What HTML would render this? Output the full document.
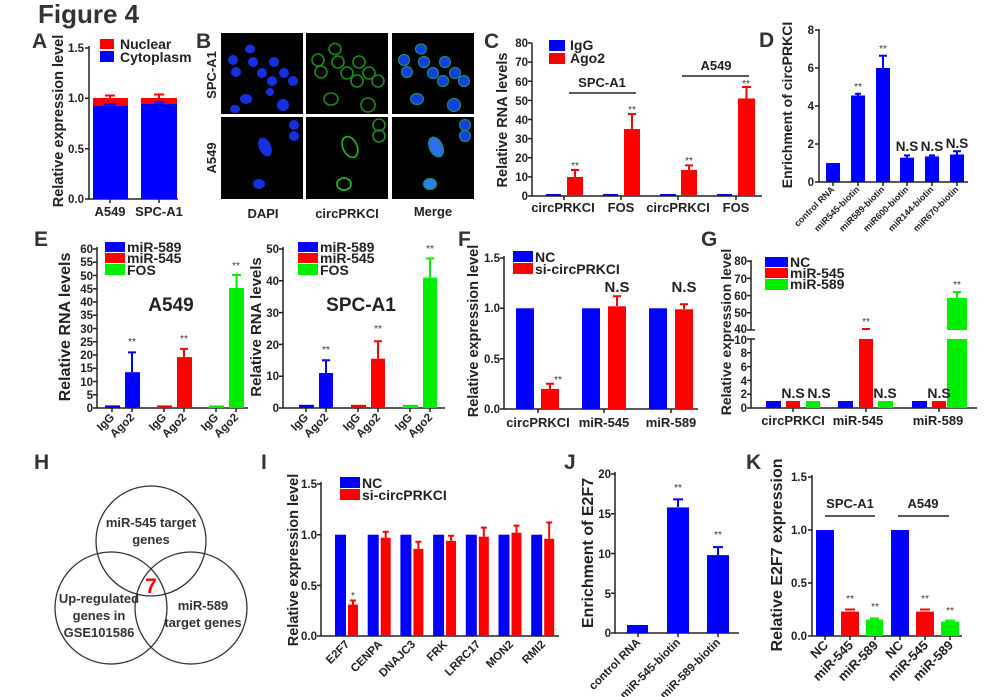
<!DOCTYPE html>
<html><head><meta charset="utf-8"><style>
html,body{margin:0;padding:0;background:#fff;}
svg{display:block;font-family:"Liberation Sans",Arial,sans-serif;font-weight:bold;}
.tk{font-size:11.5px;fill:#222;text-anchor:end;}
.xl{font-size:13px;fill:#222;text-anchor:middle;}
.yt{font-size:14.5px;fill:#222;text-anchor:middle;}
.lg{font-size:14px;fill:#222;}
.pl{font-size:21px;fill:#333;}
.st{font-size:10px;fill:#333;text-anchor:middle;font-weight:normal;}
.ns{font-size:15px;fill:#222;text-anchor:middle;}
.ax{stroke:#222;stroke-width:1.5;fill:none;}
.rl{font-size:11.5px;fill:#222;text-anchor:end;}
.b{fill:#0000ff}.r{fill:#ff0000}.g{fill:#00ee00}
.eb{stroke:#0000ff;stroke-width:2;fill:none}.er{stroke:#ff0000;stroke-width:2;fill:none}.eg{stroke:#00ee00;stroke-width:2;fill:none}
.vt{font-size:13px;fill:#333;text-anchor:middle;}
</style></head><body>
<svg width="998" height="697" viewBox="0 0 998 697" xmlns="http://www.w3.org/2000/svg">
<text x="38" y="23" style="font-size:26px;fill:#333">Figure 4</text>

<!-- A -->
<text class="pl" x="32" y="48">A</text>
<path class="ax" d="M89,46 V199 H178 M85,48 H89 M85,98.3 H89 M85,148.7 H89 M85,199 H89 M110,199 V203 M159,199 V203"/>
<text class="tk" x="84" y="52">1.5</text><text class="tk" x="84" y="102">1.0</text><text class="tk" x="84" y="153">0.5</text><text class="tk" x="84" y="203">0.0</text>
<rect class="r" x="93" y="98" width="35" height="9"/><rect class="b" x="93" y="106" width="35" height="93"/>
<rect class="r" x="141" y="98" width="36" height="7"/><rect class="b" x="141" y="104" width="36" height="95"/>
<path class="er" d="M110,98 V95.5 M105,95.5 H115 M159,98 V94.5 M154,94.5 H164"/>
<path class="eb" d="M104,104.5 H116 M154,102.5 H164"/>
<text class="xl" x="110" y="216">A549</text><text class="xl" x="159" y="216">SPC-A1</text>
<text class="yt" transform="translate(63,121) rotate(-90)">Relative expression level</text>
<rect class="r" x="100" y="39" width="14" height="10"/><text class="lg" x="120" y="49">Nuclear</text>
<rect class="b" x="100" y="51" width="14" height="11"/><text class="lg" x="120" y="62">Cytoplasm</text>

<!-- B -->
<text class="pl" x="196" y="48">B</text>
<g>
<rect x="221" y="33" width="82" height="81" fill="#000"/><rect x="306" y="33" width="82" height="81" fill="#000"/><rect x="392" y="33" width="82" height="81" fill="#000"/>
<rect x="221" y="117" width="82" height="82" fill="#000"/><rect x="306" y="117" width="82" height="82" fill="#000"/><rect x="392" y="117" width="82" height="82" fill="#000"/>
<g fill="#1530e0">
<ellipse cx="250" cy="49" rx="5" ry="4.5"/><ellipse cx="233" cy="60" rx="5" ry="5"/><ellipse cx="253" cy="62" rx="5" ry="5"/><ellipse cx="274" cy="62" rx="5" ry="5"/>
<ellipse cx="236" cy="72" rx="5" ry="5"/><ellipse cx="262" cy="73" rx="5" ry="5"/><ellipse cx="284" cy="73" rx="5" ry="5"/><ellipse cx="272" cy="81" rx="5" ry="5"/>
<ellipse cx="293" cy="81" rx="5" ry="5"/><ellipse cx="246" cy="99" rx="6" ry="5"/><ellipse cx="283" cy="105" rx="6" ry="6"/><ellipse cx="235" cy="109" rx="5" ry="4"/><ellipse cx="270" cy="92" rx="4" ry="4"/>
<ellipse cx="265" cy="147" rx="6" ry="10" transform="rotate(-25 265 147)"/><ellipse cx="259" cy="184" rx="6" ry="5"/><ellipse cx="294" cy="125" rx="5" ry="5"/><ellipse cx="294" cy="136" rx="5" ry="5"/>
</g>
<g fill="none" stroke="#1d8a1d" stroke-width="1.6">
<ellipse cx="335" cy="49" rx="6" ry="5.5"/><ellipse cx="318" cy="60" rx="6" ry="6"/><ellipse cx="338" cy="62" rx="6" ry="6"/><ellipse cx="359" cy="62" rx="6" ry="6"/>
<ellipse cx="321" cy="72" rx="6" ry="6"/><ellipse cx="347" cy="73" rx="6" ry="6"/><ellipse cx="369" cy="73" rx="6" ry="6"/><ellipse cx="357" cy="81" rx="6" ry="6"/>
<ellipse cx="378" cy="81" rx="6" ry="6"/><ellipse cx="331" cy="99" rx="7" ry="6"/><ellipse cx="368" cy="105" rx="7" ry="7"/>
<ellipse cx="350" cy="147" rx="7" ry="11" transform="rotate(-25 350 147)" stroke="#22bb22"/><ellipse cx="344" cy="184" rx="7" ry="6" stroke="#22cc22"/><ellipse cx="379" cy="125" rx="6" ry="6"/><ellipse cx="379" cy="136" rx="6" ry="6"/>
</g>
<g fill="#1540e0" stroke="#1d8a6d" stroke-width="1.2">
<ellipse cx="421" cy="49" rx="5.5" ry="5"/><ellipse cx="404" cy="60" rx="5.5" ry="5.5"/><ellipse cx="424" cy="62" rx="5.5" ry="5.5"/><ellipse cx="445" cy="62" rx="5.5" ry="5.5"/>
<ellipse cx="407" cy="72" rx="5.5" ry="5.5"/><ellipse cx="433" cy="73" rx="5.5" ry="5.5"/><ellipse cx="455" cy="73" rx="5.5" ry="5.5"/><ellipse cx="443" cy="81" rx="5.5" ry="5.5"/>
<ellipse cx="464" cy="81" rx="5.5" ry="5.5"/><ellipse cx="417" cy="99" rx="6.5" ry="5.5"/><ellipse cx="454" cy="105" rx="6.5" ry="6.5"/>
<ellipse cx="436" cy="147" rx="6.5" ry="10.5" transform="rotate(-25 436 147)" fill="#2a70ee"/><ellipse cx="430" cy="184" rx="6.5" ry="5.5" fill="#2a80ee"/><ellipse cx="465" cy="125" rx="5.5" ry="5.5"/><ellipse cx="465" cy="136" rx="5.5" ry="5.5"/>
</g>
</g>
<text class="yt" style="font-size:13px" transform="translate(216,75) rotate(-90)">SPC-A1</text>
<text class="yt" style="font-size:13px" transform="translate(216,158) rotate(-90)">A549</text>
<text class="xl" x="263" y="218">DAPI</text><text class="xl" x="347" y="218">circPRKCI</text><text class="xl" x="433" y="216">Merge</text>

<!-- C -->
<text class="pl" x="484" y="48">C</text>
<path class="ax" d="M532,43 V196 H762 M528,196 H532 M528,176.9 H532 M528,157.8 H532 M528,138.6 H532 M528,119.5 H532 M528,100.4 H532 M528,81.3 H532 M528,62.1 H532 M528,43 H532 M564,196 V200 M621,196 V200 M678,196 V200 M736,196 V200"/>
<text class="tk" x="528" y="200">0</text><text class="tk" x="528" y="181">10</text><text class="tk" x="528" y="162">20</text><text class="tk" x="528" y="143">30</text><text class="tk" x="528" y="124">40</text><text class="tk" x="528" y="105">50</text><text class="tk" x="528" y="86">60</text><text class="tk" x="528" y="66">70</text><text class="tk" x="528" y="47">80</text>
<rect class="b" x="546" y="194" width="15" height="2"/><rect class="b" x="603" y="194" width="15" height="2"/><rect class="b" x="660" y="194" width="16" height="2"/><rect class="b" x="717" y="194" width="15" height="2"/>
<rect class="r" x="567" y="177" width="16" height="19"/><rect class="r" x="624" y="129" width="16" height="67"/><rect class="r" x="681" y="170" width="16" height="26"/><rect class="r" x="738" y="98.5" width="17" height="97.5"/>
<path class="er" d="M575,177 V170 M571,170 H579 M632,129 V114 M628,114 H636 M689,170 V165.4 M685,165.4 H693 M746.5,98.5 V87 M742,87 H751"/>
<text class="st" x="575" y="169">**</text><text class="st" x="632" y="113">**</text><text class="st" x="689" y="164">**</text><text class="st" x="746" y="87">**</text>
<text class="xl" x="563" y="212">circPRKCI</text><text class="xl" x="621" y="212">FOS</text><text class="xl" x="678" y="212">circPRKCI</text><text class="xl" x="736" y="212">FOS</text>
<path d="M569,93 H636 M682,76 H749" stroke="#222" stroke-width="1.5"/>
<text class="xl" x="602" y="87">SPC-A1</text><text class="xl" x="716" y="70">A549</text>
<rect class="b" x="549" y="40" width="16" height="11"/><text class="lg" x="570" y="50">IgG</text>
<rect class="r" x="549" y="53" width="16" height="11"/><text class="lg" x="570" y="63">Ago2</text>
<text class="yt" transform="translate(507,120) rotate(-90)">Relative RNA levels</text>

<!-- D -->
<text class="pl" x="759" y="47">D</text>
<path class="ax" d="M819,29 V182 H968 M815,182 H819 M815,144 H819 M815,106 H819 M815,68 H819 M815,30 H819 M833,182 V186 M858,182 V186 M883,182 V186 M907,182 V186 M932,182 V186 M957,182 V186"/>
<text class="tk" x="814" y="186">0</text><text class="tk" x="814" y="148">2</text><text class="tk" x="814" y="110">4</text><text class="tk" x="814" y="72">6</text><text class="tk" x="814" y="34">8</text>
<rect class="b" x="826" y="163" width="14" height="19"/><rect class="b" x="851" y="95.5" width="14" height="86.5"/><rect class="b" x="876" y="68" width="14" height="114"/><rect class="b" x="900" y="157.7" width="14" height="24.3"/><rect class="b" x="925" y="156.4" width="14" height="25.6"/><rect class="b" x="950" y="154.5" width="14" height="27.5"/>
<path class="eb" d="M858,95.5 V93.7 M855,93.7 H861 M883,68 V55.7 M879,55.7 H887 M907,157.7 V155.4 M904,155.4 H910 M932,156.4 V155.4 M929,155.4 H935 M957,154.5 V151.2 M953,151.2 H961"/>
<text class="st" x="858" y="90">**</text><text class="st" x="883" y="52">**</text>
<g style="font-size:13.5px;fill:#222;text-anchor:middle"><text x="907" y="151">N.S</text><text x="932" y="151">N.S</text><text x="957" y="148">N.S</text></g>
<g style="font-size:9px;fill:#222;text-anchor:end">
<text transform="translate(835,190) rotate(-45)">control RNA</text><text transform="translate(860,190) rotate(-45)">miR545-biotin</text><text transform="translate(885,190) rotate(-45)">miR589-biotin</text><text transform="translate(909,190) rotate(-45)">miR600-biotin</text><text transform="translate(934,190) rotate(-45)">miR144-biotin</text><text transform="translate(959,190) rotate(-45)">miR670-biotin</text>
</g>
<text class="yt" style="font-size:14px" transform="translate(792,105) rotate(-90)">Enrichment of circPRKCI</text>

<!-- E -->
<text class="pl" x="34" y="246">E</text>
<path class="ax" d="M97,247 V408 H248 M93,408 H97 M93,394.75 H97 M93,381.5 H97 M93,368.25 H97 M93,355 H97 M93,341.75 H97 M93,328.5 H97 M93,315.25 H97 M93,302 H97 M93,288.75 H97 M93,275.5 H97 M93,262.25 H97 M93,249 H97 M112,408 V412 M132,408 V412 M164,408 V412 M184,408 V412 M216,408 V412 M236,408 V412"/>
<g class="tk"><text x="93" y="412">0</text><text x="93" y="399">5</text><text x="93" y="386">10</text><text x="93" y="372">15</text><text x="93" y="359">20</text><text x="93" y="346">25</text><text x="93" y="333">30</text><text x="93" y="319">35</text><text x="93" y="306">40</text><text x="93" y="293">45</text><text x="93" y="280">50</text><text x="93" y="266">55</text><text x="93" y="253">60</text></g>
<rect class="b" x="105" y="405.4" width="15" height="2.6"/><rect class="b" x="125" y="372.2" width="15" height="35.8"/>
<rect class="r" x="157" y="405.4" width="15" height="2.6"/><rect class="r" x="177" y="357.1" width="15" height="50.9"/>
<rect class="g" x="209" y="405.4" width="15" height="2.6"/><rect class="g" x="229" y="288" width="15" height="120"/>
<path class="eb" d="M132,372 V352.4 M128,352.4 H136"/><path class="er" d="M184,357 V348.9 M180,348.9 H188"/><path class="eg" d="M236.5,288 V275 M232,275 H241"/>
<text class="st" x="132" y="345">**</text><text class="st" x="184" y="342">**</text><text class="st" x="236" y="269">**</text>
<g class="rl"><text transform="translate(115,418) rotate(-45)">IgG</text><text transform="translate(135,418) rotate(-45)">Ago2</text><text transform="translate(167,418) rotate(-45)">IgG</text><text transform="translate(187,418) rotate(-45)">Ago2</text><text transform="translate(219,418) rotate(-45)">IgG</text><text transform="translate(239,418) rotate(-45)">Ago2</text></g>
<rect class="b" x="105" y="242" width="20" height="10"/><text class="lg" x="127" y="252">miR-589</text>
<rect class="r" x="105" y="253" width="20" height="10"/><text class="lg" x="127" y="263">miR-545</text>
<rect class="g" x="105" y="264" width="20" height="11"/><text class="lg" x="127" y="275">FOS</text>
<text class="xl" style="font-size:19px" x="171" y="311">A549</text>
<text class="yt" style="font-size:16px" transform="translate(70,327) rotate(-90)">Relative RNA levels</text>

<path class="ax" d="M283,247 V408 H445 M279,408 H283 M279,376.2 H283 M279,344.4 H283 M279,312.6 H283 M279,280.8 H283 M279,249 H283 M306,408 V412 M326,408 V412 M358,408 V412 M378,408 V412 M410,408 V412 M430,408 V412"/>
<g class="tk"><text x="279" y="412">0</text><text x="279" y="380">10</text><text x="279" y="349">20</text><text x="279" y="317">30</text><text x="279" y="285">40</text><text x="279" y="253">50</text></g>
<rect class="b" x="299" y="404.8" width="15" height="3.2"/><rect class="b" x="319" y="373" width="14" height="35"/>
<rect class="r" x="351" y="404.8" width="15" height="3.2"/><rect class="r" x="371" y="358.7" width="14" height="49.3"/>
<rect class="g" x="403" y="404.8" width="15" height="3.2"/><rect class="g" x="423" y="277.6" width="14" height="130.4"/>
<path class="eb" d="M326,373 V360.3 M322,360.3 H330"/><path class="er" d="M378,358.7 V341.2 M374,341.2 H382"/><path class="eg" d="M430,277.6 V258.5 M426,258.5 H434"/>
<text class="st" x="326" y="353">**</text><text class="st" x="378" y="332">**</text><text class="st" x="430" y="252">**</text>
<g class="rl"><text transform="translate(309,418) rotate(-45)">IgG</text><text transform="translate(329,418) rotate(-45)">Ago2</text><text transform="translate(361,418) rotate(-45)">IgG</text><text transform="translate(381,418) rotate(-45)">Ago2</text><text transform="translate(413,418) rotate(-45)">IgG</text><text transform="translate(433,418) rotate(-45)">Ago2</text></g>
<rect class="b" x="298" y="242" width="20" height="10"/><text class="lg" x="320" y="252">miR-589</text>
<rect class="r" x="298" y="253" width="20" height="10"/><text class="lg" x="320" y="263">miR-545</text>
<rect class="g" x="298" y="264" width="20" height="11"/><text class="lg" x="320" y="275">FOS</text>
<text class="xl" style="font-size:19px" x="361" y="311">SPC-A1</text>
<text class="yt" style="font-size:15px" transform="translate(261,327) rotate(-90)">Relative RNA levels</text>

<!-- F -->
<text class="pl" x="458" y="246">F</text>
<path class="ax" d="M504,256 V409 H698 M500,409 H504 M500,358.7 H504 M500,308.3 H504 M500,258 H504 M538,409 V413 M604,409 V413 M671,409 V413"/>
<g class="tk"><text x="500" y="413">0.0</text><text x="500" y="363">0.5</text><text x="500" y="312">1.0</text><text x="500" y="262">1.5</text></g>
<rect class="b" x="516" y="308.3" width="18" height="100.7"/><rect class="r" x="541" y="388.9" width="18" height="20.1"/>
<rect class="b" x="582" y="308.3" width="18" height="100.7"/><rect class="r" x="608" y="306.3" width="18" height="102.7"/>
<rect class="b" x="649" y="308.3" width="18" height="100.7"/><rect class="r" x="675" y="309.3" width="18" height="99.7"/>
<path class="er" d="M550,389 V383.8 M546,383.8 H554 M617,306 V296.3 M613,296.3 H621 M684,309 V304.3 M680,304.3 H688"/>
<text class="st" x="558" y="383">**</text>
<text class="ns" x="617" y="292">N.S</text><text class="ns" x="684" y="292">N.S</text>
<text class="xl" x="538" y="427">circPRKCI</text><text class="xl" x="604" y="427">miR-545</text><text class="xl" x="671" y="427">miR-589</text>
<rect class="b" x="513" y="251" width="20" height="11"/><text class="lg" x="535" y="262">NC</text>
<rect class="r" x="513" y="263" width="20" height="11"/><text class="lg" x="535" y="274">si-circPRKCI</text>
<text class="yt" transform="translate(478,331) rotate(-90)">Relative expression level</text>

<!-- G -->
<text class="pl" x="701" y="246">G</text>
<path class="ax" d="M751,260 V330 M751,339 V408 H977 M747,261.2 H751 M747,278.4 H751 M747,295.6 H751 M747,312.8 H751 M747,330 H755 M747,339 H755 M747,352.8 H751 M747,366.6 H751 M747,380.4 H751 M747,394.2 H751 M747,408 H751 M793,408 V412 M866,408 V412 M939,408 V412"/>
<g class="tk"><text x="747" y="265">80</text><text x="747" y="283">70</text><text x="747" y="300">60</text><text x="747" y="317">50</text><text x="747" y="333">40</text><text x="747" y="344">10</text><text x="747" y="357">8</text><text x="747" y="371">6</text><text x="747" y="385">4</text><text x="747" y="398">2</text><text x="747" y="412">0</text></g>
<rect class="b" x="766" y="401" width="15" height="7"/><rect class="r" x="786" y="401" width="14" height="7"/><rect class="g" x="806" y="401" width="14" height="7"/>
<rect class="b" x="838" y="401" width="15" height="7"/><rect class="r" x="859" y="339" width="14" height="69"/><rect class="g" x="878" y="401" width="15" height="7"/>
<rect class="b" x="912" y="401" width="15" height="7"/><rect class="r" x="932" y="401" width="14" height="7"/><rect class="g" x="947" y="339" width="20" height="69"/><rect class="g" x="947" y="298" width="20" height="32"/>
<path class="er" d="M862,329 H870"/><path class="eg" d="M957,298 V292 M953,292 H961"/>
<text class="st" x="866" y="325">**</text><text class="st" x="957" y="288">**</text>
<text class="ns" style="font-size:14px" x="793" y="398">N.S</text><text class="ns" style="font-size:14px" x="819" y="398">N.S</text><text class="ns" style="font-size:14px" x="885" y="398">N.S</text><text class="ns" style="font-size:14px" x="939" y="398">N.S</text>
<text class="xl" x="793" y="425">circPRKCI</text><text class="xl" x="858" y="425">miR-545</text><text class="xl" x="938" y="425">miR-589</text>
<rect class="b" x="765" y="257" width="23" height="10"/><text class="lg" x="790" y="267">NC</text>
<rect class="r" x="765" y="268" width="23" height="10"/><text class="lg" x="790" y="278">miR-545</text>
<rect class="g" x="765" y="279" width="23" height="11"/><text class="lg" x="790" y="289">miR-589</text>
<text class="yt" style="font-size:14px" transform="translate(731,332) rotate(-90)">Relative expression level</text>

<!-- H -->
<text class="pl" x="34" y="469">H</text>
<g fill="none" stroke="#333" stroke-width="1.3">
<circle cx="151" cy="541" r="55"/><circle cx="111" cy="608" r="56"/><circle cx="191" cy="608" r="56"/>
</g>
<text class="vt" x="151" y="527">miR-545 target</text><text class="vt" x="151" y="544">genes</text>
<text class="vt" x="99" y="603">Up-regulated</text><text class="vt" x="99" y="620">genes in</text><text class="vt" x="99" y="637">GSE101586</text>
<text class="vt" x="203" y="610">miR-589</text><text class="vt" x="203" y="627">target genes</text>
<text x="151" y="593" style="font-size:21px;fill:#ff0000;text-anchor:middle">7</text>

<!-- I -->
<text class="pl" x="261" y="469">I</text>
<path class="ax" d="M321,482 V636 H559 M317,636 H321 M317,585.4 H321 M317,534.7 H321 M317,484 H321"/>
<g class="tk"><text x="317" y="640">0.0</text><text x="317" y="590">0.5</text><text x="317" y="539">1.0</text><text x="317" y="488">1.5</text></g>
<g class="b">
<rect x="335" y="534.7" width="11" height="101.3"/><rect x="367.7" y="534.7" width="11" height="101.3"/><rect x="400.4" y="534.7" width="11" height="101.3"/><rect x="433.1" y="534.7" width="11" height="101.3"/><rect x="465.8" y="534.7" width="11" height="101.3"/><rect x="498.5" y="534.7" width="11" height="101.3"/><rect x="531.2" y="534.7" width="11" height="101.3"/>
</g>
<g class="r">
<rect x="348" y="604.6" width="10" height="31.4"/><rect x="380.7" y="537.7" width="10" height="98.3"/><rect x="413.4" y="548.9" width="10" height="87.1"/><rect x="446.1" y="540.8" width="10" height="95.2"/><rect x="478.8" y="536.7" width="10" height="99.3"/><rect x="511.5" y="532.7" width="10" height="103.3"/><rect x="544.2" y="538.8" width="10" height="97.2"/>
</g>
<path class="er" d="M353,604.6 V600.5 M350,600.5 H356 M385.7,537.7 V531.7 M382.7,531.7 H388.7 M418.4,548.9 V541.8 M415.4,541.8 H421.4 M451.1,540.8 V535.7 M448.1,535.7 H454.1 M483.8,536.7 V527.6 M480.8,527.6 H486.8 M516.5,532.7 V525.6 M513.5,525.6 H519.5 M549.2,538.8 V522.5 M546.2,522.5 H552.2"/>
<text class="st" x="353" y="599">*</text>
<g class="rl"><text transform="translate(350,645) rotate(-45)">E2F7</text><text transform="translate(383,645) rotate(-45)">CENPA</text><text transform="translate(416,645) rotate(-45)">DNAJC3</text><text transform="translate(448,645) rotate(-45)">FRK</text><text transform="translate(481,645) rotate(-45)">LRRC17</text><text transform="translate(514,645) rotate(-45)">MON2</text><text transform="translate(546,645) rotate(-45)">RMI2</text></g>
<rect class="b" x="340" y="477" width="20" height="11"/><text class="lg" x="362" y="488">NC</text>
<rect class="r" x="340" y="489" width="20" height="11"/><text class="lg" x="362" y="500">si-circPRKCI</text>
<text class="yt" transform="translate(298,560) rotate(-90)">Relative expression level</text>

<!-- J -->
<text class="pl" x="564" y="469">J</text>
<path class="ax" d="M615,472 V633 H739 M611,633 H615 M611,593.25 H615 M611,553.5 H615 M611,513.75 H615 M611,474 H615 M638,633 V637 M678,633 V637 M718,633 V637"/>
<g class="tk"><text x="611" y="637">0</text><text x="611" y="598">5</text><text x="611" y="558">10</text><text x="611" y="518">15</text><text x="611" y="478">20</text></g>
<rect class="b" x="627" y="625" width="21" height="8"/><rect class="b" x="667" y="507.4" width="22" height="125.6"/><rect class="b" x="707" y="555.1" width="22" height="77.9"/>
<path class="eb" d="M678,507 V499.4 M673,499.4 H683 M718,555 V547.1 M713,547.1 H723"/>
<text class="st" x="678" y="491">**</text><text class="st" x="718" y="538">**</text>
<g class="rl"><text transform="translate(641,643) rotate(-45)">control RNA</text><text transform="translate(681,643) rotate(-45)">miR-545-biotin</text><text transform="translate(721,643) rotate(-45)">miR-589-biotin</text></g>
<text class="yt" style="font-size:16px" transform="translate(593,553) rotate(-90)">Enrichment of E2F7</text>

<!-- K -->
<text class="pl" x="746" y="469">K</text>
<path class="ax" d="M812,475 V636 H962 M808,636 H812 M808,583 H812 M808,530 H812 M808,477 H812 M825,636 V640 M850,636 V640 M875,636 V640 M900,636 V640 M925,636 V640 M950,636 V640"/>
<g class="tk"><text x="807" y="640">0.0</text><text x="807" y="587">0.5</text><text x="807" y="534">1.0</text><text x="807" y="481">1.5</text></g>
<rect class="b" x="816" y="530" width="18" height="106"/><rect class="r" x="841" y="611.6" width="18" height="24.4"/><rect class="g" x="866" y="619.6" width="17" height="16.4"/>
<rect class="b" x="891" y="530" width="18" height="106"/><rect class="r" x="916" y="611.6" width="18" height="24.4"/><rect class="g" x="941" y="621.7" width="18" height="14.3"/>
<path class="er" d="M845,609.5 H855 M920,609.5 H930"/><path class="eg" d="M870,618.5 H879 M945,620.6 H955"/>
<text class="st" x="850" y="602">**</text><text class="st" x="875" y="610">**</text><text class="st" x="925" y="602">**</text><text class="st" x="950" y="614">**</text>
<path d="M825,516 H875 M898,516 H949" stroke="#222" stroke-width="1.5"/>
<text class="xl" x="850" y="508">SPC-A1</text><text class="xl" x="923" y="508">A549</text>
<g class="rl" style="font-size:13px"><text transform="translate(829,646) rotate(-45)">NC</text><text transform="translate(854,646) rotate(-45)">miR-545</text><text transform="translate(879,646) rotate(-45)">miR-589</text><text transform="translate(904,646) rotate(-45)">NC</text><text transform="translate(929,646) rotate(-45)">miR-545</text><text transform="translate(954,646) rotate(-45)">miR-589</text></g>
<text class="yt" style="font-size:16px" transform="translate(782,555) rotate(-90)">Relative E2F7 expression</text>
</svg>
</body></html>
